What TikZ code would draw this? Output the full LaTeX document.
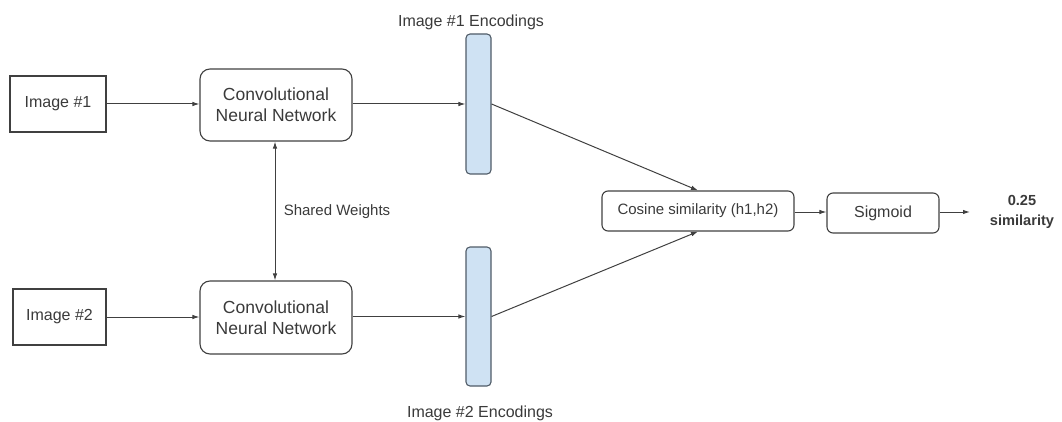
\documentclass[tikz,border=0pt]{standalone}
\usepackage{fontspec}
\setmainfont{Liberation Sans}
\usetikzlibrary{arrows.meta}
\definecolor{ink}{HTML}{3A3A3A}
\definecolor{edge}{HTML}{404040}
\definecolor{encfill}{HTML}{CFE2F3}
\definecolor{encline}{HTML}{505C68}
\tikzset{
  box/.style={draw=edge, line width=1.1pt, text=ink, inner sep=0pt},
  plainbox/.style={box, rectangle},
  roundbox/.style={box, rectangle, rounded corners=10pt},
  encbar/.style={draw=encline, fill=encfill, line width=1.1pt, rounded corners=4pt, inner sep=0pt},
  tip/.tip={Latex[length=7pt,width=4.5pt]},
  conn/.style={draw=edge, line width=1pt, -tip},
  lbl/.style={text=ink, inner sep=0pt, align=center},
}
\begin{document}
\begin{tikzpicture}[x=1pt, y=-1pt]
\useasboundingbox (0,0) rectangle (1062,422);

% inputs
\node[plainbox, minimum width=96pt, minimum height=56pt, font=\fontsize{16}{19}\selectfont] (img1) at (58,104) {Image \#1};
\node[plainbox, minimum width=93pt, minimum height=56pt, font=\fontsize{16}{19}\selectfont] (img2) at (59.5,317) {Image \#2};

% twin networks
\node[roundbox, minimum width=152pt, minimum height=72pt, align=center, font=\fontsize{17.5}{21}\selectfont] (cnn1) at (276,105) {Convolutional\\Neural Network};
\node[roundbox, minimum width=152pt, minimum height=73pt, align=center, font=\fontsize{17.5}{21}\selectfont] (cnn2) at (276,317.5) {Convolutional\\Neural Network};

% encoding vectors
\node[encbar, minimum width=25pt, minimum height=140pt] (enc1) at (478.5,104) {};
\node[encbar, minimum width=25pt, minimum height=139pt] (enc2) at (478.5,316.5) {};
\node[lbl, font=\fontsize{16}{19}\selectfont] (enc1lbl) at (471,22) {Image \#1 Encodings};
\node[lbl, font=\fontsize{16}{19}\selectfont] (enc2lbl) at (480,413) {Image \#2 Encodings};

% similarity head
\node[roundbox, rounded corners=6pt, minimum width=192pt, minimum height=40pt, font=\fontsize{15}{18}\selectfont] (cos) at (698,211) {Cosine similarity (h1,h2)};
\node[roundbox, rounded corners=6pt, minimum width=112pt, minimum height=40pt, font=\fontsize{16}{19}\selectfont] (sig) at (883,213) {Sigmoid};
\node[lbl, font=\bfseries\fontsize{14.6}{20}\selectfont] (out) at (1022,212) {0.25\\similarity};
\coordinate (outin) at (970,212);

% shared-weights label
\node[lbl, font=\fontsize{15}{18}\selectfont] (shared) at (337,212) {Shared Weights};

% connectors
\draw[conn] (img1.east) -- (img1.east -| cnn1.west);
\draw[conn] (img2.east) -- (img2.east -| cnn2.west);
\draw[conn, tip-tip] ([xshift=-1pt]cnn1.south) -- ([xshift=-1pt]cnn2.north);
\draw[conn] (enc1.west -| cnn1.east) -- (enc1.west);
\draw[conn] (enc2.west -| cnn2.east) -- (enc2.west);
\draw[conn] (enc1.east) -- (cos.north);
\draw[conn] (enc2.east) -- (cos.south);
\draw[conn] (cos.east |- 0,212) -- (sig.west |- 0,212);
\draw[conn] (sig.east |- outin) -- (outin);
\end{tikzpicture}
\end{document}
